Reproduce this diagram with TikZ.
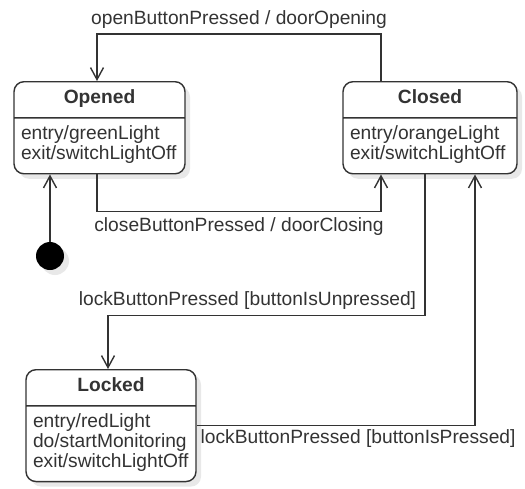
\documentclass[tikz,border=0pt]{standalone}
\usepackage{fontspec}
\setmainfont{Liberation Sans}
\usepackage{tikz}
\usetikzlibrary{arrows.meta}
\usetikzlibrary{shapes.multipart}
\usetikzlibrary{shadows}
\usetikzlibrary{positioning}
\definecolor{linegray}{HTML}{333333}
\pgfkeys{/pgf/rectangle split parts=2}
\newcommand{\stname}[1]{\begin{tabular}{@{}c@{}}\textbf{#1}\end{tabular}}
\newcommand{\stacts}[1]{\begin{tabular}{@{}l@{}}#1\end{tabular}}

\begin{document}
\begin{tikzpicture}
      [x=1pt,y=-1pt,
      every node/.style={font=\fontsize{19.2}{19.5}\selectfont,text=linegray},
      state/.style={rectangle split,draw=linegray,line width=1.4pt,rounded corners=10pt,
        fill=white,rectangle split part align={center,left},inner xsep=7pt,inner ysep=7.5pt,
        minimum width=171pt,anchor=north,
        drop shadow={shadow xshift=5pt,shadow yshift=-5pt,opacity=.18}},
      initial/.style={circle,fill=black,minimum size=28pt,inner sep=0pt,
        drop shadow={shadow xshift=5pt,shadow yshift=-5pt,opacity=.18}},
      trans/.style={draw=linegray,line width=1.4pt,-{Straight Barb[length=12pt,width=13pt]}},
      evt/.style={inner sep=2pt}]
\useasboundingbox (0,0) rectangle (525,488);
\node[state] (op) at (99.5,81)
   {\stname{Opened}\nodepart{two}\stacts{entry/greenLight\\exit/switchLightOff}};
\node[state,minimum width=174pt] (cl) at (430,81)
   {\stname{Closed}\nodepart{two}\stacts{entry/orangeLight\\exit/switchLightOff}};
\node[state,minimum width=170pt] (lk) at (111,369)
   {\stname{Locked}\nodepart{two}\stacts{entry/redLight\\do/startMonitoring\\exit/switchLightOff}};
\node[initial] (init) at (50,256) {};

\draw[trans] (init) -- (init |- op.south);
\draw[trans] ([xshift=-49pt]cl.north) -- ++(0,-47) -| ([xshift=-2.5pt]op.north)
   node[evt,pos=0.25,above=3pt] {openButtonPressed / doorOpening};
\draw[trans] ([xshift=-2.5pt]op.south) -- ++(0,37) -| ([xshift=-49pt]cl.south)
   node[evt,pos=0.25,below=3pt] {closeButtonPressed / doorClosing};
\draw[trans] ([xshift=-5pt]cl.south) -- ++(0,141) -| ([xshift=-3pt]lk.north)
   node[evt,pos=0.28,above=3pt] {lockButtonPressed [buttonIsUnpressed]};
\draw[trans] (lk.east) -| ([xshift=45pt]cl.south)
   node[evt,pos=0.29,below=1pt] {lockButtonPressed [buttonIsPressed]};
\end{tikzpicture}
\end{document}
